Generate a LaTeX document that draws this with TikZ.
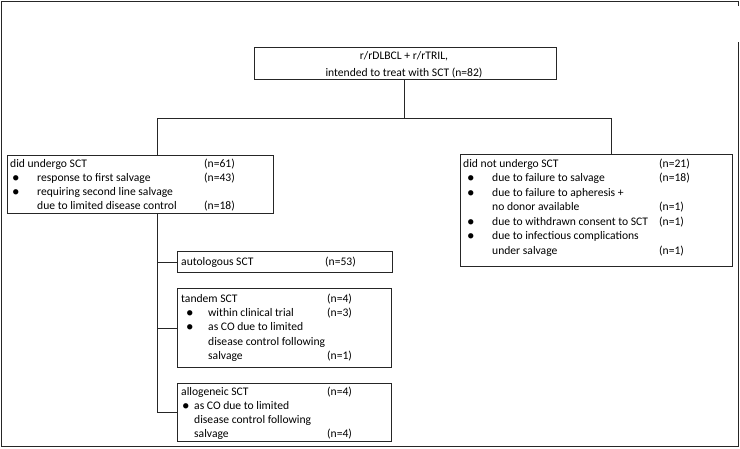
\documentclass[tikz,border=0pt]{standalone}
\usepackage{fontspec}
\setmainfont{Carlito}
\begin{document}
\begin{tikzpicture}[x=1pt,y=-1pt,
  box/.style={draw=black!85, line width=0.9pt, inner sep=0, anchor=north west},
  line/.style={draw=black!85, line width=0.9pt},
  t/.style={anchor=base west, inner sep=0, font=\fontsize{11.6}{13}\selectfont, text=black},
  dot/.style={anchor=base west, inner sep=0, font=\fontsize{15}{15}\selectfont, text=black},
  tc/.style={anchor=base, inner sep=0, font=\fontsize{11.6}{13}\selectfont, text=black}]
\useasboundingbox (0,0) rectangle (740,448);
% outer frame
\draw[line] (738,6) -- (738,1) -- (1,1) -- (1,446) -- (738,446) -- (738,42);
% boxes
\node[box, minimum width=302pt, minimum height=32pt] (top) at (254,47) {};
\node[box, minimum width=266pt, minimum height=58pt] (lbox) at (7,155) {};
\node[box, minimum width=272pt, minimum height=112pt] (rbox) at (460,154) {};
\node[box, minimum width=215pt, minimum height=21pt] (auto) at (177,251) {};
\node[box, minimum width=214pt, minimum height=79pt] (tand) at (177,288) {};
\node[box, minimum width=214pt, minimum height=58pt] (allo) at (177,383) {};
% connectors
\coordinate (jc) at (404,118);
\coordinate (jl) at (157,118);
\coordinate (jr) at (611,118);
\draw[line] (top.south -| jc) -- (jc);
\draw[line] (jl |- lbox.north) -- (jl) -- (jr) -- (jr |- rbox.north);
\draw[line] (jl |- lbox.south) -- (jl |- allo.west) -- (allo.west);
\draw[line] (jl |- auto.west) -- (auto.west);
\draw[line] (jl |- tand.west) -- (tand.west);
% top text
\node[tc] (a1) at (404,59) {r/rDLBCL + r/rTRIL,};
\node[tc] (a2) at (404,76) {intended to treat with SCT (n=82)};
% left box
\node[t] (b1) at (10,167) {did undergo SCT};
\node[t] (b1n) at (204,167) {(n=61)};
\node[dot] (b2d) at (12,182) {•};
\node[t] (b2) at (37,181) {response to first salvage};
\node[t] (b2n) at (204,181) {(n=43)};
\node[dot] (b3d) at (12,196) {•};
\node[t] (b3) at (37,195) {requiring second line salvage};
\node[t] (b4) at (37,209) {due to limited disease control};
\node[t] (b4n) at (204,209) {(n=18)};
% right box
\node[t] (c1) at (463,167) {did not undergo SCT};
\node[t] (c1n) at (659,167) {(n=21)};
\node[dot] (c2d) at (467,182.5) {•};
\node[t] (c2) at (492,181.5) {due to failure to salvage};
\node[t] (c2n) at (659,181.5) {(n=18)};
\node[dot] (c3d) at (467,197) {•};
\node[t] (c3) at (492,196) {due to failure to apheresis +};
\node[t] (c4) at (492,210.5) {no donor available};
\node[t] (c4n) at (659,210.5) {(n=1)};
\node[dot] (c5d) at (467,226) {•};
\node[t] (c5) at (492,225) {due to withdrawn consent to SCT};
\node[t] (c5n) at (659,225) {(n=1)};
\node[dot] (c6d) at (467,240.5) {•};
\node[t] (c6) at (492,239.5) {due to infectious complications};
\node[t] (c7) at (492,254) {under salvage};
\node[t] (c7n) at (659,254) {(n=1)};
% autologous
\node[t] (d1) at (181,265) {autologous SCT};
\node[t] (d1n) at (325,265) {(n=53)};
% tandem
\node[t] (e1) at (181,302) {tandem SCT};
\node[t] (e1n) at (327,302) {(n=4)};
\node[dot] (e2d) at (186,317) {•};
\node[t] (e2) at (208,316) {within clinical trial};
\node[t] (e2n) at (327,316) {(n=3)};
\node[dot] (e3d) at (186,331) {•};
\node[t] (e3) at (208,330) {as CO due to limited};
\node[t] (e4) at (208,345) {disease control following};
\node[t] (e5) at (208,359) {salvage};
\node[t] (e5n) at (327,359) {(n=1)};
% allogeneic
\node[t] (f1) at (181,395) {allogeneic SCT};
\node[t] (f1n) at (327,395) {(n=4)};
\node[dot] (f2d) at (182,410) {•};
\node[t] (f2) at (194,409) {as CO due to limited};
\node[t] (f3) at (194,423) {disease control following};
\node[t] (f4) at (194,437) {salvage};
\node[t] (f4n) at (327,437) {(n=4)};
\end{tikzpicture}
\end{document}
